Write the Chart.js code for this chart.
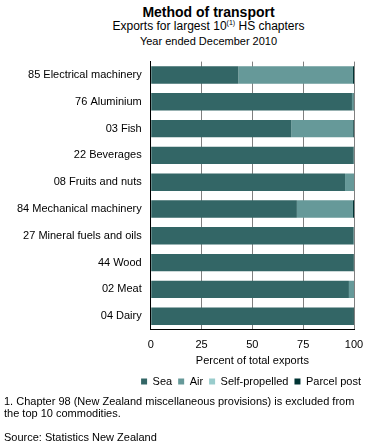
<!DOCTYPE html>
<html>
<head>
<meta charset="utf-8">
<script src="https://cdn.jsdelivr.net/npm/chart.js@4"></script>
<style>
  body { margin: 0; background: #fff; font-family: Arial, "Liberation Sans", sans-serif; color: #000; }
  #page { position: relative; width: 377px; height: 448px; overflow: hidden; }
  .t { position: absolute; white-space: nowrap; }
  .c { left: 40px; width: 337px; text-align: center; }
  #title { top: 4px; font-size: 14px; line-height: 16px; font-weight: bold; }
  #sub { top: 19px; font-size: 12px; line-height: 14px; }
  #sub sup { font-size: 7px; vertical-align: 5px; line-height: 0; }
  #year { top: 35px; font-size: 11px; line-height: 13px; }
  #note { top: 395px; left: 4px; font-size: 11px; line-height: 12px; }
  #source { top: 431px; left: 4px; font-size: 11px; line-height: 12px; }
  #wrap { position: absolute; left: 0; top: 46px; }
</style>
</head>
<body>
<div id="page">
  <div class="t c" id="title">Method of transport</div>
  <div class="t c" id="sub">Exports for largest 10<sup>(1)</sup> HS chapters</div>
  <div class="t c" id="year">Year ended December 2010</div>
  <div id="wrap"><canvas id="chart" width="377" height="351"></canvas></div>
  <div class="t" id="note">1. Chapter 98 (New Zealand miscellaneous provisions) is excluded from<br>the top 10 commodities.</div>
  <div class="t" id="source">Source: Statistics New Zealand</div>
</div>
<script>
// HS chapters, top to bottom
const chapters = [
    '85 Electrical machinery',
    '76 Aluminium',
    '03 Fish',
    '22 Beverages',
    '08 Fruits and nuts',
    '84 Mechanical machinery',
    '27 Mineral fuels and oils',
    '44 Wood',
    '02 Meat',
    '04 Dairy'
];

// percent of total exports by method
const sea = [43.1, 99.0, 69.1, 99.5, 95.6, 71.9, 99.8, 99.7, 97.5, 99.5];
const air = [56.4, 0.7, 30.5, 0.2, 4.4, 27.6, 0.2, 0.0, 2.5, 0.1];
const selfPropelled = [0, 0, 0, 0, 0, 0, 0, 0, 0, 0];
const parcelPost = [0.5, 0.3, 0.4, 0.3, 0.0, 0.5, 0.0, 0.3, 0.0, 0.4];

const xTicks = [0, 25, 50, 75, 100];

Chart.defaults.font.family = 'Arial, "Liberation Sans", sans-serif';
Chart.defaults.font.size = 11;
Chart.defaults.color = '#000';

const ctx = document.getElementById('chart').getContext('2d');

new Chart(ctx, {
    type: 'bar',
    data: {
        labels: chapters,
        datasets: [
            { label: 'Sea', data: sea, backgroundColor: '#336666' },
            { label: 'Air', data: air, backgroundColor: '#669999' },
            { label: 'Self-propelled', data: selfPropelled, backgroundColor: '#99cccc' },
            { label: 'Parcel post', data: parcelPost, backgroundColor: '#003333' }
        ]
    },
    options: {
        indexAxis: 'y',
        responsive: false,
        animation: false,
        barPercentage: 0.65,
        categoryPercentage: 1,
        layout: { padding: { top: 0, right: 10, left: 8, bottom: 0 } },
        plugins: {
            legend: {
                position: 'bottom',
                align: 'end',
                labels: { boxWidth: 6, boxHeight: 6, padding: 6, font: { size: 11 } }
            },
            tooltip: { enabled: false }
        },
        scales: {
            x: {
                stacked: true,
                min: 0,
                max: 100,
                afterBuildTicks: axis => { axis.ticks = xTicks.map(v => ({ value: v })); },
                // plot ends 23px from the right edge, legend reaches further
                afterFit: axis => { axis.paddingRight = 23; },
                grid: { color: '#808080', drawTicks: false },
                border: { color: '#000', width: 1 },
                ticks: { padding: 9 },
                title: { display: true, text: 'Percent of total exports', padding: { top: -6, bottom: 2 } }
            },
            y: {
                stacked: true,
                grid: { display: false, drawTicks: false },
                border: { color: '#000', width: 1 },
                ticks: { padding: 9 }
            }
        }
    }
});
</script>
</body>
</html>
